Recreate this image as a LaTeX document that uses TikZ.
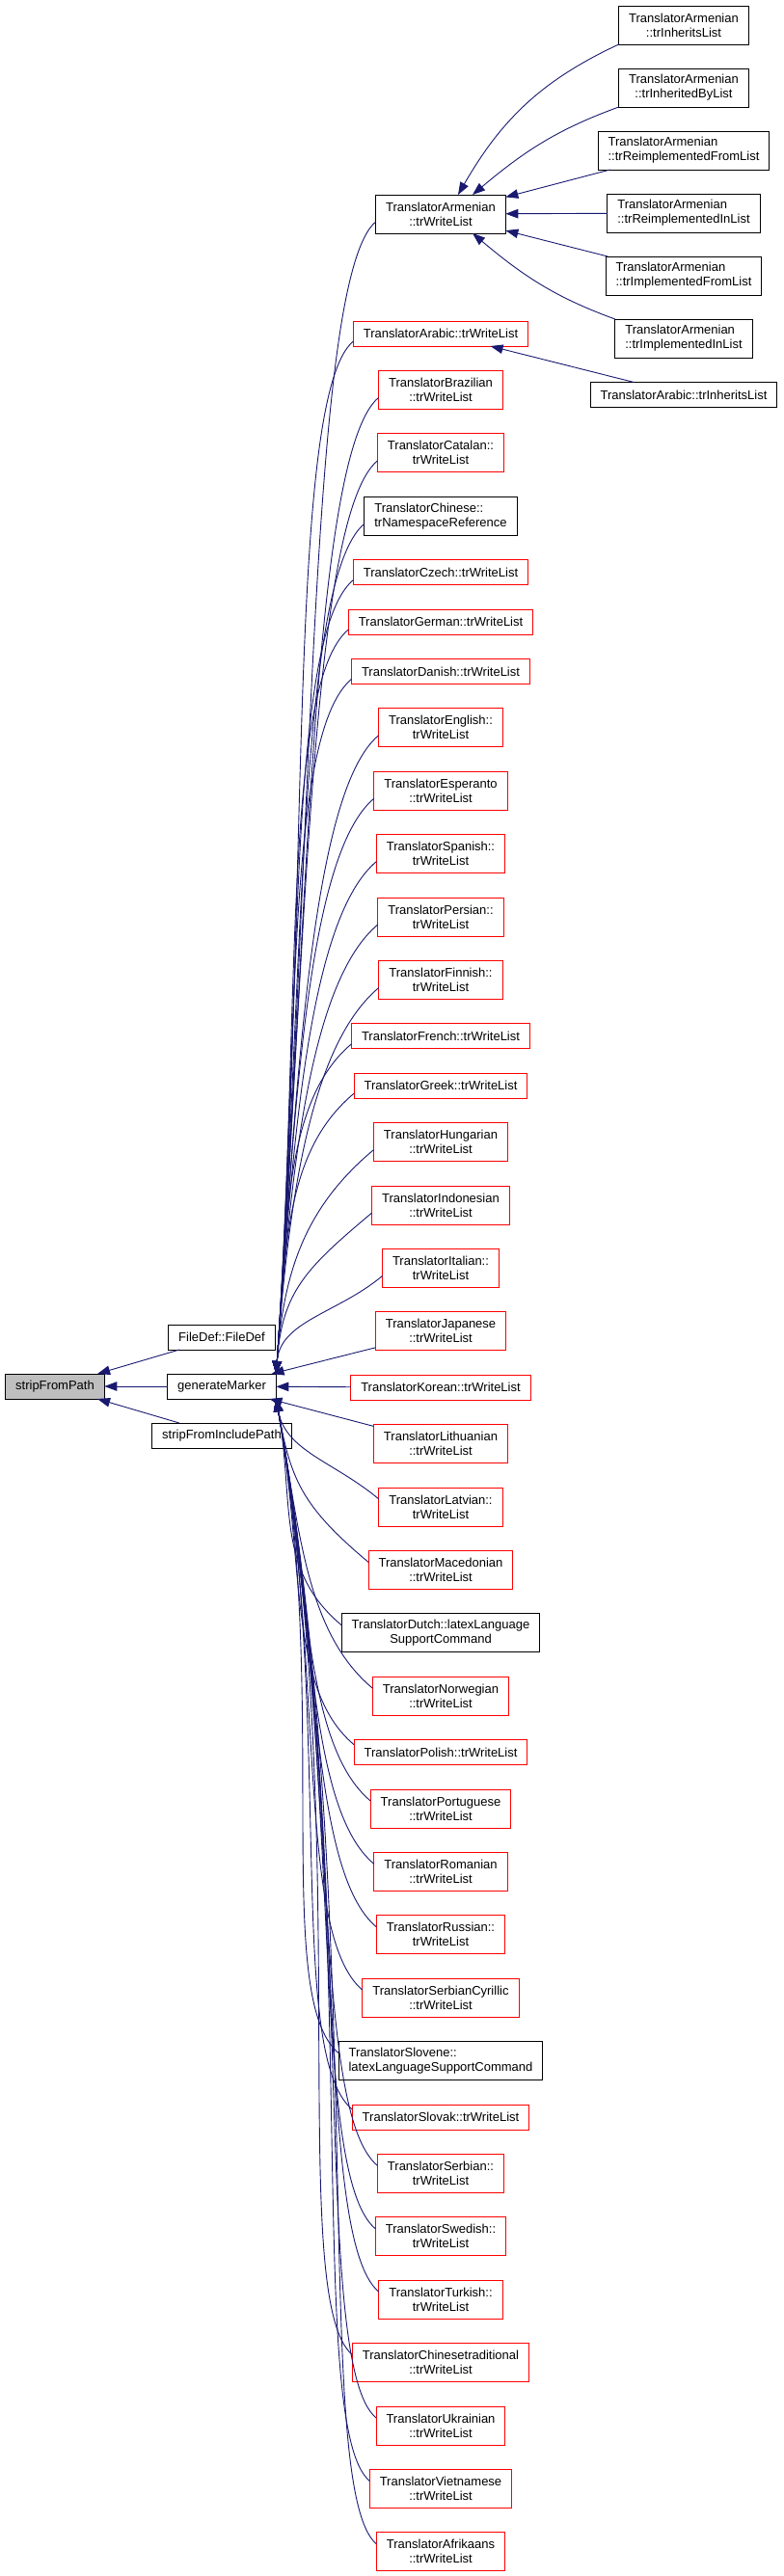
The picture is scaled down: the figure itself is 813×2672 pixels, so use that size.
\documentclass[tikz,border=0pt]{standalone}
\usepackage{fontspec}
\setmainfont{Liberation Sans}
\usepackage{xcolor}
\usetikzlibrary{positioning,arrows.meta}
\definecolor{edgeblue}{HTML}{191970}
\definecolor{truncred}{HTML}{FF0000}
\definecolor{rootgray}{HTML}{BFBFBF}

\begin{document}
\begin{tikzpicture}[x=1pt,y=1pt,font=\fontsize{13pt}{15pt}\selectfont,node distance=25.4pt,
  fn/.style={draw=black,line width=1pt,align=center,inner xsep=10.5pt,inner ysep=4pt,outer sep=0pt,minimum height=26pt},
  two/.style={fn,minimum height=40pt},
  trunc/.style={draw=truncred},
  edge/.style={draw=edgeblue,line width=0.9pt,{Triangle[length=13pt,width=9.5pt]}-}]
\useasboundingbox (0,0) rectangle (813,-2672);

\node[fn,fill=rootgray] (sfp) at (57,-1438) {stripFromPath};
\node[fn] (gm) at (230,-1438) {generateMarker};
\node[fn,above=25pt of gm] (fd) {FileDef::FileDef};
\node[fn,below=25pt of gm] (sfip) {stripFromIncludePath};

\node[two] (taw) at (457,-222) {TranslatorArmenian\\::trWriteList};
\node[two] (tainh) at (709,-26) {TranslatorArmenian\\::trInheritsList};
\node[two,below=25pt of tainh] (tainhby) {TranslatorArmenian\\::trInheritedByList};
\node[two,align=left,below=25pt of tainhby] (tareimplfrom) {TranslatorArmenian\\::trReimplementedFromList};
\node[two,align=left,below=25pt of tareimplfrom] (tareimplin) {TranslatorArmenian\\::trReimplementedInList};
\node[two,align=left,below=25pt of tareimplin] (taimplfrom) {TranslatorArmenian\\::trImplementedFromList};
\node[two,align=left,below=25pt of taimplfrom] (taimplin) {TranslatorArmenian\\::trImplementedInList};
\node[fn,below=25.5pt of taimplin] (arinh) {TranslatorArabic::trInheritsList};

\node[fn,trunc] (arw) at (457,-346) {TranslatorArabic::trWriteList};
\node[two,trunc,below=of arw] (bra) {TranslatorBrazilian\\::trWriteList};
\node[two,trunc,below=of bra] (cat) {TranslatorCatalan::\\trWriteList};
\node[two,align=left,below=of cat] (chi) {TranslatorChinese::\\trNamespaceReference};
\node[fn,trunc,below=of chi] (cze) {TranslatorCzech::trWriteList};
\node[fn,trunc,below=of cze] (ger) {TranslatorGerman::trWriteList};
\node[fn,trunc,below=of ger] (dan) {TranslatorDanish::trWriteList};
\node[two,trunc,below=of dan] (eng) {TranslatorEnglish::\\trWriteList};
\node[two,trunc,below=of eng] (epo) {TranslatorEsperanto\\::trWriteList};
\node[two,trunc,below=of epo] (spa) {TranslatorSpanish::\\trWriteList};
\node[two,trunc,below=of spa] (per) {TranslatorPersian::\\trWriteList};
\node[two,trunc,below=of per] (fin) {TranslatorFinnish::\\trWriteList};
\node[fn,trunc,below=of fin] (fre) {TranslatorFrench::trWriteList};
\node[fn,trunc,below=of fre] (gre) {TranslatorGreek::trWriteList};
\node[two,trunc,below=of gre] (hun) {TranslatorHungarian\\::trWriteList};
\node[two,trunc,below=of hun] (ind) {TranslatorIndonesian\\::trWriteList};
\node[two,trunc,below=of ind] (ita) {TranslatorItalian::\\trWriteList};
\node[two,trunc,below=of ita] (jap) {TranslatorJapanese\\::trWriteList};
\node[fn,trunc,below=of jap] (kor) {TranslatorKorean::trWriteList};
\node[two,trunc,below=of kor] (lit) {TranslatorLithuanian\\::trWriteList};
\node[two,trunc,below=of lit] (lat) {TranslatorLatvian::\\trWriteList};
\node[two,trunc,below=of lat] (mac) {TranslatorMacedonian\\::trWriteList};
\node[two,below=of mac] (dut) {TranslatorDutch::latexLanguage\\SupportCommand};
\node[two,trunc,below=of dut] (nor) {TranslatorNorwegian\\::trWriteList};
\node[fn,trunc,below=of nor] (pol) {TranslatorPolish::trWriteList};
\node[two,trunc,below=of pol] (por) {TranslatorPortuguese\\::trWriteList};
\node[two,trunc,below=of por] (rom) {TranslatorRomanian\\::trWriteList};
\node[two,trunc,below=of rom] (rus) {TranslatorRussian::\\trWriteList};
\node[two,trunc,below=of rus] (srl) {TranslatorSerbianCyrillic\\::trWriteList};
\node[two,align=left,below=of srl] (slv) {TranslatorSlovene::\\latexLanguageSupportCommand};
\node[fn,trunc,below=of slv] (slk) {TranslatorSlovak::trWriteList};
\node[two,trunc,below=of slk] (srb) {TranslatorSerbian::\\trWriteList};
\node[two,trunc,below=of srb] (swe) {TranslatorSwedish::\\trWriteList};
\node[two,trunc,below=of swe] (tur) {TranslatorTurkish::\\trWriteList};
\node[two,trunc,below=of tur] (zht) {TranslatorChinesetraditional\\::trWriteList};
\node[two,trunc,below=of zht] (ukr) {TranslatorUkrainian\\::trWriteList};
\node[two,trunc,below=of ukr] (vie) {TranslatorVietnamese\\::trWriteList};
\node[two,trunc,below=of vie] (afr) {TranslatorAfrikaans\\::trWriteList};

\draw[edge] (sfp) -- (fd);
\draw[edge] (sfp) -- (gm);
\draw[edge] (sfp) -- (sfip);

\draw[edge] ([xshift=18pt]taw.north) to[out=60,in=205] (tainh.south west);
\draw[edge] ([xshift=33pt]taw.north) to[out=40,in=200] (tainhby.south west);
\draw[edge] (taw) -- (tareimplfrom);
\draw[edge] (taw) -- (tareimplin);
\draw[edge] (taw) -- (taimplfrom);
\draw[edge] ([xshift=33pt]taw.south) to[out=-40,in=160] (taimplin.north west);
\draw[edge] (arw) -- (arinh);

\foreach \t/\d [evaluate=\d as \e using {min(90,1.1*\d)}] in {taw/560,arw/500,bra/475,cat/445,
    chi/415,cze/385,ger/365,dan/340,eng/310,epo/280,spa/250,per/220,fin/190,fre/160,gre/140,
    hun/110,ind/85,ita/55}
  \draw[edge] (gm.north east) .. controls +(86:\d) and +(220:\e) .. ([yshift=-8pt]\t.west);
\draw[edge] (gm) -- (jap);
\draw[edge] (gm) -- (kor);
\draw[edge] (gm) -- (lit);
\foreach \t/\d [evaluate=\d as \e using {min(90,1.1*\d)}] in {lat/55,mac/85,dut/110,nor/140,
    pol/170,por/195,rom/225,rus/255,srl/290,slv/320,slk/345,srb/375,swe/405,tur/435,zht/465,
    ukr/495,vie/525,afr/560}
  \draw[edge] (gm.south east) .. controls +(-80:\d) and +(140:\e) .. ([yshift=8pt]\t.west);
\end{tikzpicture}
\end{document}
